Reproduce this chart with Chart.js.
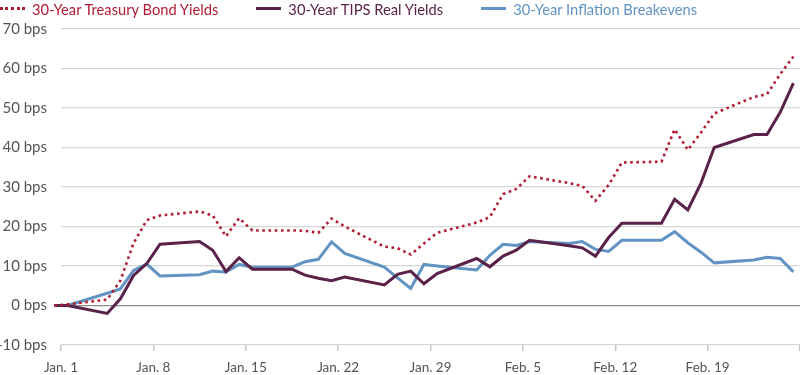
<!DOCTYPE html>
<html><head><meta charset="utf-8">
<script src="https://cdn.jsdelivr.net/npm/chart.js@4.4.1/dist/chart.umd.min.js"></script>
<style>
html,body{margin:0;padding:0;background:#fff;}
#wrap{position:relative;width:800px;height:375px;overflow:hidden;}
canvas{position:absolute;left:0;top:0;}
#legend{position:absolute;left:0;top:0;height:17px;display:flex;align-items:center;font-family:Lato,"Open Sans",sans-serif;font-size:14.7px;white-space:nowrap;z-index:2;}
.item{display:flex;align-items:center;margin-right:38px;}
.mk{width:25px;height:0;margin-right:7px;}
</style></head>
<body>
<div id="wrap"><canvas id="c" width="800" height="375"></canvas><div id="legend"></div></div>
<script>
// Business-day dates (Dec 31, 2020 – Feb 25, 2021)
const dates = [
  '2020-12-31','2021-01-01',
  '2021-01-04','2021-01-05','2021-01-06','2021-01-07','2021-01-08',
  '2021-01-11','2021-01-12','2021-01-13','2021-01-14','2021-01-15',
  '2021-01-18','2021-01-19','2021-01-20','2021-01-21','2021-01-22',
  '2021-01-25','2021-01-26','2021-01-27','2021-01-28','2021-01-29',
  '2021-02-01','2021-02-02','2021-02-03','2021-02-04','2021-02-05',
  '2021-02-08','2021-02-09','2021-02-10','2021-02-11','2021-02-12',
  '2021-02-15','2021-02-16','2021-02-17','2021-02-18','2021-02-19',
  '2021-02-22','2021-02-23','2021-02-24','2021-02-25'
];
// Cumulative change, bps
const treasuryYields = [
  0, 0.3,
  1.5, 6.3, 15.8, 21.6, 22.8,
  23.8, 22.8, 17.5, 22.1, 19.0,
  19.0, 18.9, 18.4, 22.0, 20.0,
  14.9, 14.5, 12.9, 15.7, 18.4,
  21.0, 22.4, 28.2, 29.5, 32.7,
  31.0, 30.3, 26.5, 30.5, 36.2,
  36.4, 44.6, 39.4, 43.8, 48.6,
  52.8, 53.5, 58.6, 63.0
];
const tipsRealYields = [
  0, 0,
  -2.0, 1.7, 7.6, 10.6, 15.5,
  16.2, 14.0, 8.6, 12.1, 9.2,
  9.2, 7.7, 6.9, 6.3, 7.2,
  5.2, 7.9, 8.7, 5.5, 8.1,
  11.9, 9.8, 12.5, 14.0, 16.5,
  15.1, 14.6, 12.5, 17.2, 20.8,
  20.8, 26.9, 24.2, 31.0, 40.0,
  43.3, 43.3, 48.9, 56.3
];
const inflationBreakevens = [
  0, 0,
  3.1, 4.2, 8.9, 10.5, 7.5,
  7.8, 8.7, 8.5, 10.4, 9.7,
  9.7, 11.1, 11.7, 16.1, 13.2,
  9.7, 7.0, 4.3, 10.4, 10.0,
  9.0, 12.7, 15.5, 15.2, 16.2,
  15.7, 16.2, 14.2, 13.7, 16.5,
  16.5, 18.7, 15.9, 13.5, 10.8,
  11.5, 12.2, 11.9, 8.5
];
const seriesNames = ['30-Year Treasury Bond Yields','30-Year TIPS Real Yields','30-Year Inflation Breakevens'];
const tickDates = ['2021-01-01','2021-01-08','2021-01-15','2021-01-22','2021-01-29','2021-02-05','2021-02-12','2021-02-19','2021-02-26'];
const tickLabels = ['Jan. 1','Jan. 8','Jan. 15','Jan. 22','Jan. 29','Feb. 5','Feb. 12','Feb. 19',''];
const yTickValues = [-10,0,10,20,30,40,50,60,70];
const yTickLabels = ['-10 bps','0 bps','10 bps','20 bps','30 bps','40 bps','50 bps','60 bps','70 bps'];

const colors = ['#b01c33','#5a2249','#6193c3'];
const FONT = 'Lato, "Open Sans", sans-serif';
const origin = Date.parse('2021-01-01T00:00:00Z');
// data observed at noon; axis ticks at midnight
const dayOf = (s, h) => (Date.parse(s + 'T' + h + ':00:00Z') - origin) / 864e5;
const pts = arr => arr.map((v, i) => ({x: dayOf(dates[i], '12'), y: v}));
const tickDays = tickDates.map(d => dayOf(d, '00'));

// HTML legend
const lg = document.getElementById('legend');
seriesNames.forEach((n, i) => {
  const it = document.createElement('div'); it.className = 'item';
  const mk = document.createElement('div'); mk.className = 'mk';
  mk.style.borderTop = i === 0 ? '3px dotted ' + colors[i] : '3px solid ' + colors[i];
  const tx = document.createElement('span'); tx.textContent = n; tx.style.color = colors[i];
  it.appendChild(mk); it.appendChild(tx); lg.appendChild(it);
});

new Chart(document.getElementById('c'), {
  type: 'line',
  data: {
    datasets: [
      {label: seriesNames[0], data: pts(treasuryYields), borderColor: colors[0], borderWidth: 2.6, borderDash: [2.6, 3.6], clip: false},
      {label: seriesNames[1], data: pts(tipsRealYields), borderColor: colors[1], borderWidth: 3, clip: false},
      {label: seriesNames[2], data: pts(inflationBreakevens), borderColor: colors[2], borderWidth: 3, clip: false}
    ]
  },
  options: {
    responsive: false,
    animation: false,
    devicePixelRatio: 1,
    layout: {padding: {top: 29, right: 0, left: 0, bottom: 0}},
    elements: {point: {radius: 0}, line: {tension: 0, borderJoinStyle: 'miter'}},
    plugins: {legend: {display: false}, tooltip: {enabled: false}},
    scales: {
      x: {
        type: 'linear', min: 0, max: 56,
        afterBuildTicks: s => { s.ticks = tickDays.map(v => ({value: v})); },
        afterFit: s => { s.height = 30; s.paddingRight = 0; },
        border: {display: false},
        grid: {drawOnChartArea: false, drawTicks: true, tickLength: 6, color: '#c4c4c4', lineWidth: 1.5},
        ticks: {
          autoSkip: false, maxRotation: 0, padding: 9, color: '#555',
          font: {family: FONT, size: 13.5},
          callback: (v) => { const k = tickDays.indexOf(v); return k >= 0 ? tickLabels[k] : ''; }
        }
      },
      y: {
        min: -10, max: 70,
        afterBuildTicks: s => { s.ticks = yTickValues.map(v => ({value: v})); },
        afterFit: s => { s.width = 61; },
        border: {display: false},
        grid: {drawTicks: false, color: c => c.tick && c.tick.value === 0 ? '#8a8a8a' : '#d6d6d6', lineWidth: 1.2},
        ticks: {
          padding: 14, color: '#555',
          font: {family: FONT, size: 15},
          callback: (v) => { const k = yTickValues.indexOf(v); return k >= 0 ? yTickLabels[k] : ''; }
        }
      }
    }
  }
});
</script>
</body></html>
